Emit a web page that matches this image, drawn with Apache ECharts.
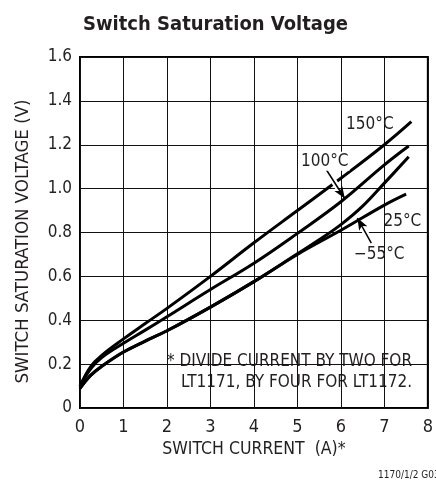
<!DOCTYPE html>
<html>
<head>
<meta charset="utf-8">
<script src="https://cdn.jsdelivr.net/npm/echarts@6/dist/echarts.min.js"></script>
<style>
  html, body { margin: 0; padding: 0; background: #fff; }
  #chart { width: 436px; height: 484px; }
</style>
</head>
<body>
<div id="chart"></div>
<script>
// curve data: [switch current (A), saturation voltage (V)]
const curve150 = [[0, 0.1], [0.25, 0.19], [0.5, 0.24], [1, 0.315], [1.5, 0.385], [2, 0.454], [3, 0.6], [4, 0.753], [5, 0.9], [6, 1.047], [7, 1.2], [7.62, 1.305]];
const curve100 = [[0, 0.1], [0.25, 0.18], [0.5, 0.23], [1, 0.295], [1.5, 0.355], [2, 0.416], [3, 0.54], [4, 0.66], [5, 0.796], [6, 0.94], [7, 1.108], [7.56, 1.194]];
const curve25 = [[0, 0.09], [0.25, 0.15], [0.5, 0.19], [1, 0.255], [1.5, 0.305], [2, 0.352], [3, 0.46], [4, 0.576], [5, 0.7], [6, 0.81], [7, 0.925], [7.5, 0.975]];
const curveM55 = [[0, 0.09], [0.25, 0.15], [0.5, 0.19], [1, 0.255], [1.5, 0.305], [2, 0.352], [3, 0.46], [4, 0.576], [5, 0.703], [5.5, 0.767], [6, 0.836], [6.5, 0.92], [7, 1.025], [7.56, 1.145]];

const xTicks = [0, 1, 2, 3, 4, 5, 6, 7, 8];
const yTicks = [0, 0.2, 0.4, 0.6, 0.8, 1.0, 1.2, 1.4, 1.6];

// temperature labels, anchored at the left/middle of the text
const tempLabels = [
  { text: "150°C", at: [6.12, 1.29], boxed: false },
  { text: "100°C", at: [5.06, 1.125], boxed: true },
  { text: "25°C", at: [6.98, 0.848], boxed: false },
  { text: "\u221255°C", at: [6.3, 0.70], boxed: false },
];
// pointer arrows [from, to]
const arrows = [
  [[5.64, 1.094], [6.09, 0.955]],
  [[6.70, 0.752], [6.38, 0.866]],
];
// white breaks where an arrow crosses another curve
const arrowBreaks = [
  [[5.79, 1.048], [5.94, 1.002]],
  [[6.63, 0.777], [6.44, 0.845]],
];

const FONT = "'Liberation Sans Narrow', 'DejaVu Sans Condensed', 'Arial Narrow', sans-serif";
const INK = "#231f20";

const chart = echarts.init(document.getElementById("chart"), null, { renderer: "canvas" });

const lineStyle = { color: "#000", width: 3 };

const options = {
  backgroundColor: "#fff",
  animation: false,
  title: {
    text: "Switch Saturation Voltage",
    left: 78,
    top: 10,
    textStyle: { fontFamily: FONT, fontWeight: "bold", fontSize: 20, color: INK },
  },
  grid: {
    left: 80,
    top: 57,
    right: 4,
    bottom: 76,
    show: true,
    borderColor: "#000",
    borderWidth: 2,
    backgroundColor: "transparent",
  },
  xAxis: {
    type: "value",
    min: 0,
    max: 8,
    interval: 1,
    name: "SWITCH CURRENT  (A)*",
    nameLocation: "middle",
    nameGap: 30,
    nameTextStyle: { fontFamily: FONT, fontSize: 17.5, color: INK },
    axisLine: { show: false },
    axisTick: { show: false },
    axisLabel: {
      fontFamily: FONT, fontSize: 18, color: INK, margin: 10,
      formatter: (v) => (xTicks.includes(v) ? String(v) : ""),
    },
    splitLine: { show: true, lineStyle: { color: "#111", width: 1 } },
  },
  yAxis: {
    type: "value",
    min: 0,
    max: 1.6,
    interval: 0.2,
    name: "SWITCH SATURATION VOLTAGE (V)",
    nameLocation: "middle",
    nameGap: 47,
    nameTextStyle: { fontFamily: FONT, fontSize: 18.5, color: INK, padding: [0, 18, 0, 0] },
    axisLine: { show: false },
    axisTick: { show: false },
    axisLabel: {
      fontFamily: FONT, fontSize: 17, color: INK, margin: 8,
      formatter: (v) => {
        const t = yTicks.find((k) => Math.abs(k - v) < 1e-6);
        if (t === undefined) return "";
        return t === 0 ? "0" : t.toFixed(1);
      },
    },
    splitLine: { show: true, lineStyle: { color: "#111", width: 1 } },
  },
  series: [
    { name: "25°C", type: "line", data: curve25, smooth: 0.4, symbol: "none", lineStyle, z: 3 },
    { name: "-55°C", type: "line", data: curveM55, smooth: 0.4, symbol: "none", lineStyle, z: 3 },
    { name: "100°C", type: "line", data: curve100, smooth: 0.4, symbol: "none", lineStyle, z: 3 },
    { name: "150°C", type: "line", data: curve150, smooth: 0.4, symbol: "none", lineStyle, z: 3 },
    {
      // white gaps under the pointer arrows
      name: "breaks", type: "line", data: [], z: 4,
      markLine: {
        silent: true,
        symbol: ["none", "none"],
        label: { show: false },
        lineStyle: { color: "#fff", width: 6, type: "solid", cap: "butt" },
        data: arrowBreaks.map(([a, b]) => [{ coord: a }, { coord: b }]),
      },
    },
    {
      name: "notes", type: "line", data: [], z: 5,
      markLine: {
        silent: true,
        symbol: ["none", "arrow"],
        symbolSize: [7, 12],
        label: { show: false },
        lineStyle: { color: "#000", width: 1.5, type: "solid" },
        data: arrows.map(([a, b]) => [{ coord: a }, { coord: b }]),
      },
      markPoint: {
        silent: true,
        symbol: "circle",
        symbolSize: 0,
        data: tempLabels.map((l) => ({
          coord: l.at,
          label: {
            show: true,
            formatter: l.text,
            position: "right",
            distance: 0,
            fontFamily: FONT,
            fontSize: 17,
            color: INK,
            backgroundColor: l.boxed ? "#fff" : "transparent",
            padding: l.boxed ? [1, 1, 1, 1] : 0,
          },
        })),
      },
    },
  ],
  graphic: [
    {
      type: "group",
      x: 162,
      y: 348,
      children: [
        { type: "rect", shape: { x: 0, y: 0, width: 254, height: 47 }, style: { fill: "#fff" } },
        {
          type: "text", x: 250, y: 14,
          style: { text: "* DIVIDE CURRENT BY TWO FOR", fontFamily: FONT, fontSize: 17, fill: INK, align: "right", verticalAlign: "middle" },
        },
        {
          type: "text", x: 250, y: 35,
          style: { text: "LT1171, BY FOUR FOR LT1172.", fontFamily: FONT, fontSize: 17, fill: INK, align: "right", verticalAlign: "middle" },
        },
      ],
    },
    {
      type: "text",
      x: 378,
      y: 470,
      style: { text: "1170/1/2 G03", fontFamily: FONT, fontSize: 10, fill: INK },
    },
  ],
};

chart.setOption(options);
</script>
</body>
</html>
